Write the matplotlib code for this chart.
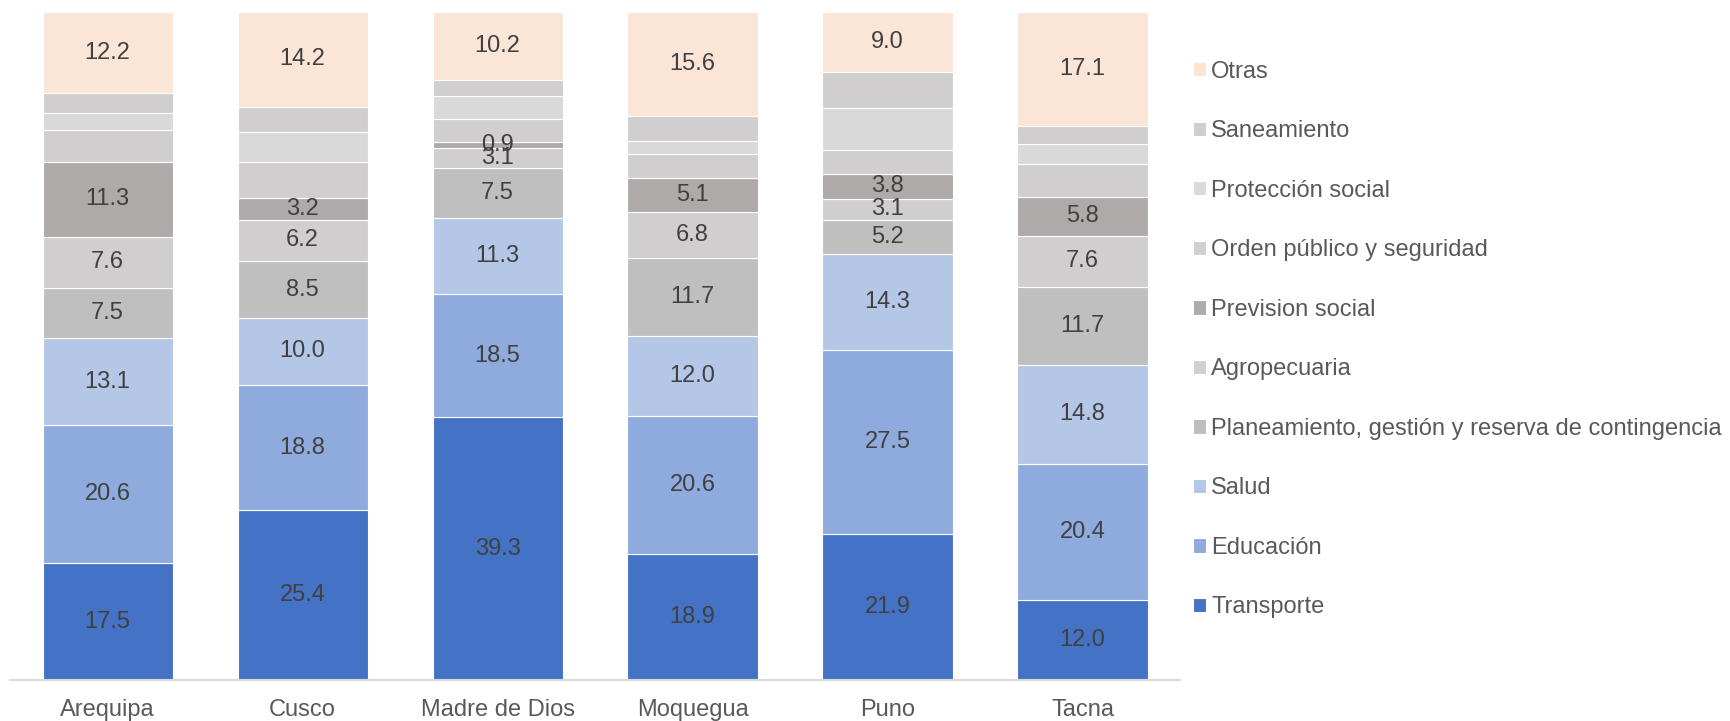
import numpy as np
import matplotlib.pyplot as plt

plt.rcParams['font.family'] = ['Liberation Sans', 'DejaVu Sans']

regions = ['Arequipa', 'Cusco', 'Madre de Dios', 'Moquegua', 'Puno', 'Tacna']

# bottom -> top of each stack
series = [
    'Transporte',
    'Educación',
    'Salud',
    'Planeamiento, gestión y reserva de contingencia',
    'Agropecuaria',
    'Prevision social',
    'Orden público y seguridad',
    'Protección social',
    'Saneamiento',
    'Otras',
]

transporte = [17.5, 25.4, 39.3, 18.9, 21.9, 12.0]
educacion = [20.6, 18.8, 18.5, 20.6, 27.5, 20.4]
salud = [13.1, 10.0, 11.3, 12.0, 14.3, 14.8]
planeamiento = [7.5, 8.5, 7.5, 11.7, 5.2, 11.7]
agropecuaria = [7.6, 6.2, 3.1, 6.8, 3.1, 7.6]
prevision = [11.3, 3.2, 0.9, 5.1, 3.8, 5.8]
orden_publico = [4.8, 5.4, 3.4, 3.6, 3.5, 5.0]
proteccion = [2.5, 4.6, 3.4, 2.0, 6.3, 2.9]
saneamiento = [2.9, 3.7, 2.4, 3.7, 5.4, 2.7]
otras = [12.2, 14.2, 10.2, 15.6, 9.0, 17.1]

values = [transporte, educacion, salud, planeamiento, agropecuaria,
          prevision, orden_publico, proteccion, saneamiento, otras]
colors = ['#4472C4', '#8FAADC', '#B4C7E7', '#BFBFBF', '#D0CECE',
          '#AEAAAA', '#D0CECE', '#D9D9D9', '#D0CECE', '#FBE5D6']
show_labels = [True, True, True, True, True, True, False, False, False, True]

fig = plt.figure(figsize=(17.31, 7.21), dpi=100)
ax = fig.add_axes([0.0058, 0.0569, 0.6759, 0.9265])

x = np.arange(len(regions))
bottom = np.zeros(len(regions))
handles = []
for name, vals, color, lab in zip(series, values, colors, show_labels):
    vals = np.array(vals)
    bars = ax.bar(x, vals, width=0.667, bottom=bottom, color=color,
                  edgecolor='white', linewidth=0.8, label=name)
    handles.append(bars)
    if lab:
        for xi, b, v in zip(x, bottom, vals):
            ax.text(xi, b + v / 2, f'{v:.1f}', ha='center', va='center',
                    fontsize=17, color='#404040')
    bottom += vals

ax.set_xlim(-0.5, len(regions) - 0.5)
ax.set_ylim(0, 100)
ax.set_xticks(x)
ax.set_xticklabels(regions, fontsize=17, color='#595959')
ax.tick_params(axis='x', length=0, pad=14)
ax.set_yticks([])
for side in ['left', 'right', 'top']:
    ax.spines[side].set_visible(False)
ax.spines['bottom'].set_color('#D9D9D9')
ax.spines['bottom'].set_linewidth(1.5)

fig.legend(handles[::-1], series[::-1], loc='upper left',
           bbox_to_anchor=(0.6826, 0.9323), frameon=False, borderpad=0,
           fontsize=17, labelcolor='#595959', handlelength=0.55,
           handleheight=0.55, handletextpad=0.2, labelspacing=1.59)

fig.savefig('out.png', dpi=100)
